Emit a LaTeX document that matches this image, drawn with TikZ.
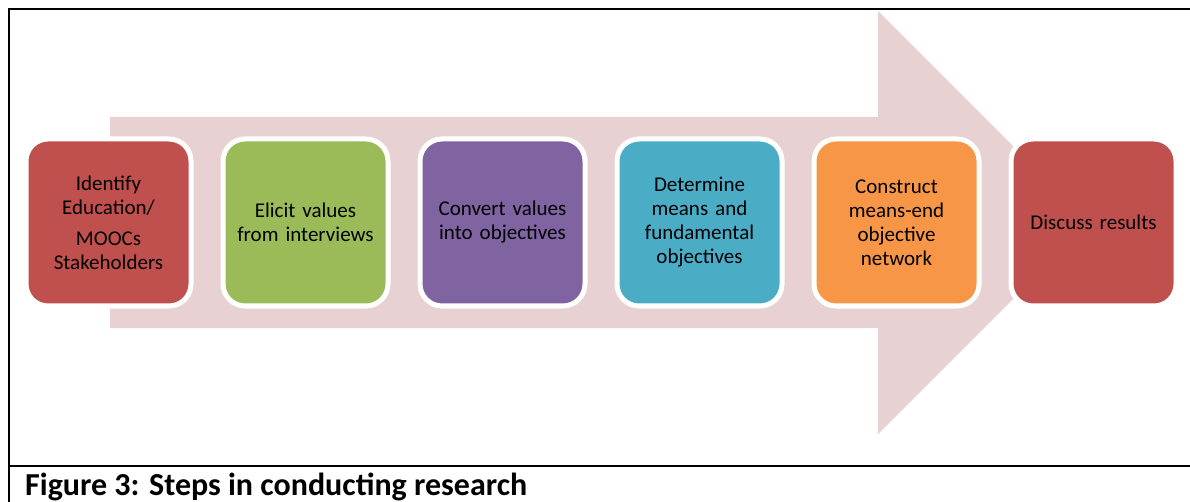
\documentclass[tikz,border=0pt]{standalone}
\usepackage{fontspec}
\setmainfont{Carlito}
\usetikzlibrary{positioning}

\definecolor{arrowpink}{RGB}{232,209,210}
\definecolor{stepred}{HTML}{C0504D}
\definecolor{stepgreen}{HTML}{9BBB59}
\definecolor{steppurple}{HTML}{8064A2}
\definecolor{stepteal}{HTML}{4BACC6}
\definecolor{steporange}{HTML}{F79646}

\begin{document}
\begin{tikzpicture}[
        x=1pt, y=-1pt,
        node distance = 32pt,
        frame/.style={line width=1.3pt, draw=black}
    ]

    \tikzstyle{stage} = [
        rectangle,
        rounded corners = 22pt,
        draw = white,
        line width = 5pt,
        outer sep = 0pt,
        minimum width = 165pt,
        minimum height = 167pt,
        text width = 150pt,
        align = center,
        font = \fontsize{21}{24}\selectfont
    ]
    \tikzstyle{caption} = [
        anchor = base west,
        inner sep = 0pt,
        font = \bfseries\fontsize{32}{36}\selectfont
    ]

    \useasboundingbox (0,0) rectangle (1190,502);

    \fill [arrowpink] (110,117) -- (878,117) -- (878,11) -- (1089.5,222.5)
        -- (878,434) -- (878,328) -- (110,328) -- cycle;

    \node [stage, fill=stepred] (identify) at (108.5,222.5)
        {Identify\\ Education/\\[7pt] MOOCs\\ Stakeholders};
    \node [stage, fill=stepgreen, right=of identify] (elicit)
        {Elicit values\\ from interviews};
    \node [stage, fill=steppurple, right=of elicit] (convert)
        {Convert values\\ into objectives};
    \node [stage, fill=stepteal, right=of convert] (determine)
        {Determine\\ means and\\ fundamental\\ objectives};
    \node [stage, fill=steporange, right=of determine] (construct)
        {Construct\\ means-end\\ objective\\ network};
    \node [stage, fill=stepred, right=of construct] (discuss)
        {Discuss results};

    \draw [frame] (1190,9) -- (9,9) -- (9,502);
    \draw [frame] (9,466) -- (1190,466);

    \node [caption] (title) at (25,495) {Figure 3: Steps in conducting research};
\end{tikzpicture}
\end{document}
